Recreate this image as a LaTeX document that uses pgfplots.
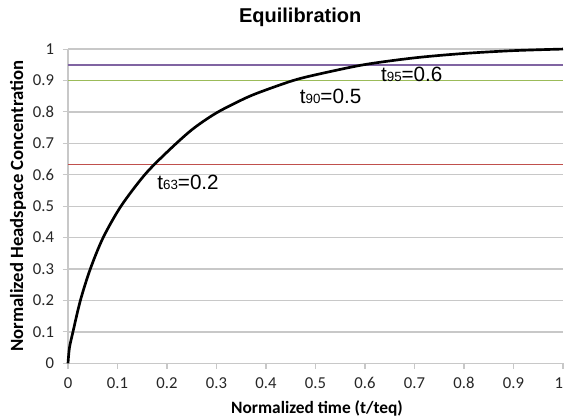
\documentclass[border=0pt]{standalone}
\usepackage{pgfplots}
\pgfplotsset{compat=1.18}
\usepackage{fontspec}
\setmainfont{Carlito}
\newfontfamily\arial{Liberation Sans}
\definecolor{exred}{HTML}{C0504D}
\definecolor{exgreen}{HTML}{9BBB59}
\definecolor{expurple}{HTML}{8064A2}
\definecolor{grid}{RGB}{200,200,200}
\begin{document}
\begin{tikzpicture}
\useasboundingbox (-51pt,-42.5pt) rectangle (372.75pt,272.5pt);
\begin{axis}[
  scale only axis,
  width=371.25pt, height=235.7pt,
  xmin=0, xmax=1, ymin=0, ymax=1,
  xtick={0,0.1,...,1}, ytick={0,0.1,...,1},
  xticklabels={0,0.1,0.2,0.3,0.4,0.5,0.6,0.7,0.8,0.9,\makebox[0pt][r]{1}},
  yticklabels={0,0.1,0.2,0.3,0.4,0.5,0.6,0.7,0.8,0.9,1},
  axis x line*=bottom, axis y line*=left,
  axis line style={draw=grid, line width=0.8pt, -},
  tick style={draw=grid, line width=0.8pt},
  tick align=outside, major tick length=4pt,
  ymajorgrids, grid style={draw=grid, line width=1pt},
  ticklabel style={font=\fontsize{12.5}{14}\selectfont, text=black!85},
  xticklabel style={yshift=-3pt},
  yticklabel style={xshift=-3pt},
  title={\arial\bfseries Equilibration},
  title style={font=\fontsize{15}{17}\selectfont, at={(axis description cs:0.469,1)}, anchor=center, yshift=18pt},
  xlabel={\bfseries Normalized time (t/teq)},
  ylabel={\bfseries Normalized Headspace Concentration},
  xlabel style={font=\fontsize{13}{15}\selectfont, at={(axis description cs:0.503,0)}, anchor=center, yshift=-33.75pt},
  ylabel style={font=\fontsize{14}{16}\selectfont, at={(axis description cs:0,0.5)}, anchor=center, yshift=37.5pt},
  clip=false,
]
\addplot[exred, line width=1.1pt, forget plot] coordinates {(0,0.632) (1,0.632)};
\addplot[exgreen, line width=1.1pt, forget plot] coordinates {(0,0.9) (1,0.9)};
\addplot[expurple, line width=1.1pt, forget plot] coordinates {(0,0.95) (1,0.95)};
\addplot[black, line width=2pt, smooth] coordinates {
(0,0) (0.003,0.05) (0.010,0.1) (0.025,0.2) (0.045,0.3) (0.071,0.4) (0.107,0.5)
(0.155,0.6) (0.2,0.672) (0.25,0.743) (0.3,0.797) (0.36,0.845) (0.4,0.87)
(0.455,0.9) (0.5,0.918) (0.597,0.95) (0.7,0.972) (0.8,0.986) (0.9,0.995) (1,1.0)};
\node[anchor=west, font=\arial\fontsize{15.5}{17}\selectfont, inner sep=0pt] at (axis cs:0.18,0.575) {t{\fontsize{10}{11}\selectfont 63}=0.2};
\node[anchor=west, font=\arial\fontsize{15.5}{17}\selectfont, inner sep=0pt] at (axis cs:0.468,0.848) {t{\fontsize{10}{11}\selectfont 90}=0.5};
\node[anchor=west, font=\arial\fontsize{15.5}{17}\selectfont, inner sep=0pt] at (axis cs:0.632,0.92) {t{\fontsize{10}{11}\selectfont 95}=0.6};
\end{axis}
\end{tikzpicture}
\end{document}
